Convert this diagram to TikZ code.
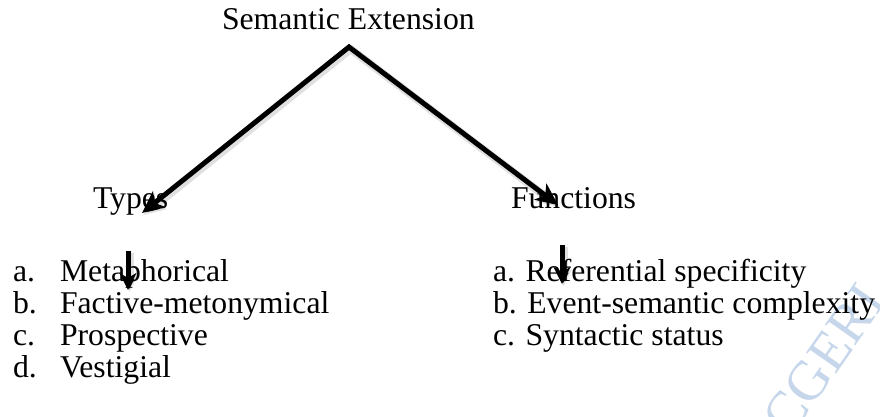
\documentclass[tikz,border=0pt]{standalone}
\usepackage{fontspec}
\setmainfont{Liberation Serif}
\usetikzlibrary{arrows.meta}
\definecolor{wmblue}{HTML}{C6D6EB}
\tikzset{
  txt/.style={inner sep=0pt, outer sep=0pt, anchor=base west, font=\fontsize{31.7}{36}\selectfont},
  softshadow/.style={preaction={draw=black, draw opacity=0.12, line width=8pt, transform canvas={shift={(1.5pt,-2pt)}}}},
  bigarrow/.style={softshadow, line width=5pt, line join=miter, {Stealth[length=22pt,width=20pt,inset=6pt]}-{Stealth[length=22pt,width=20pt,inset=6pt]}},
  smallarrow/.style={softshadow, line width=5pt, -{Stealth[length=17pt,width=17pt,inset=5pt]}},
}
\begin{document}
\begin{tikzpicture}[x=1pt,y=-1pt]
\useasboundingbox (0,0) rectangle (880,416);
\begin{scope}
\clip (0,0) rectangle (880,416);
\node[inner sep=0pt, anchor=base east, rotate=55, text=wmblue, font=\fontsize{56}{60}\selectfont] (wm) at (887,301) {CGERI};
\end{scope}
% headings
\node[txt] (root) at (222,29) {Semantic Extension};
\node[txt] (types) at (93,208) {Types};
\node[txt] (funcs) at (511,208) {Functions};
% left list
\node[txt] (la) at (13,281) {a.};
\node[txt] (lb) at (13,313) {b.};
\node[txt] (lc) at (13,345) {c.};
\node[txt] (ld) at (13,377) {d.};
\node[txt] (ta) at (60,281) {Metaphorical};
\node[txt] (tb) at (60,313) {Factive-metonymical};
\node[txt] (tc) at (60,345) {Prospective};
\node[txt] (td) at (60,377) {Vestigial};
% right list
\node[txt] (fa) at (493,281) {a. Referential specificity};
\node[txt] (fb) at (493,313) {b. Event-semantic complexity};
\node[txt] (fc) at (493,345) {c. Syntactic status};
% connectors
\coordinate (apex) at (349,47);
\coordinate (tipL) at (142,213);
\coordinate (tipR) at (558,205);
\coordinate (dLs) at (128,251);
\coordinate (dLe) at (128,290);
\coordinate (dRs) at (562,245);
\coordinate (dRe) at (562,284);
\draw[bigarrow] (tipL) -- (apex) -- (tipR);
\draw[smallarrow] (dLs) -- (dLe);
\draw[smallarrow] (dRs) -- (dRe);
\end{tikzpicture}
\end{document}
